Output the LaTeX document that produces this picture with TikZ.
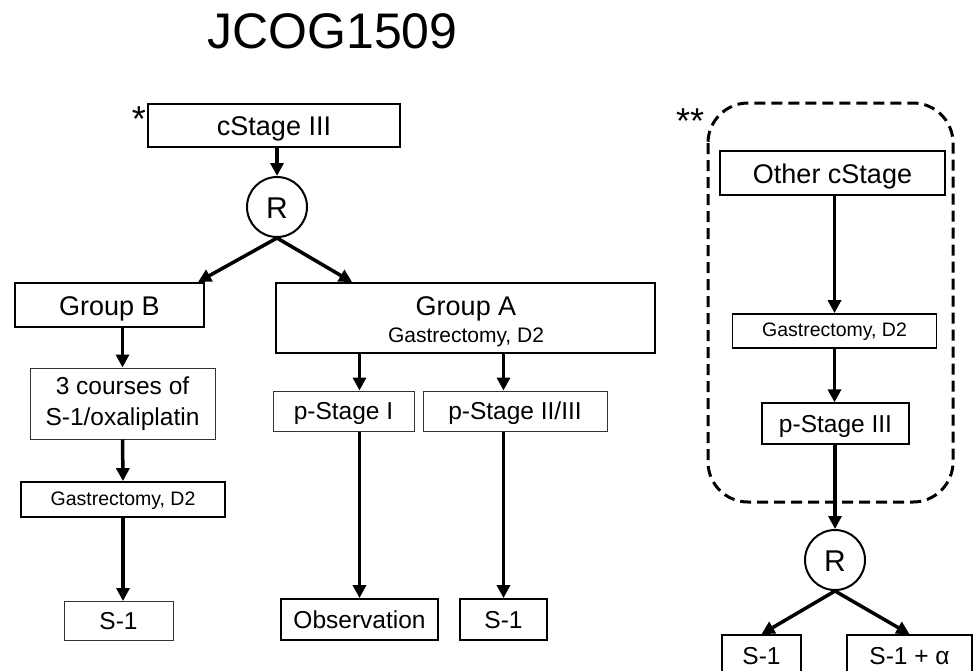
\documentclass[tikz,border=0pt]{standalone}
\usepackage{fontspec}
\setmainfont{Liberation Sans}
\usetikzlibrary{arrows.meta,calc}
\tikzset{
  box/.style={draw, line width=1.8pt, rectangle, inner sep=0pt},
  thinbox/.style={draw, line width=1pt, draw=black!80, rectangle, inner sep=0pt},
  rnode/.style={draw, circle, line width=2pt, minimum size=60pt, inner sep=0pt, text height=23pt, text depth=1pt, font=\fontsize{30}{32}\selectfont},
  arr/.style={line width=3.5pt, -{Triangle[length=13pt,width=13pt]}},
  fbig/.style={font=\fontsize{27}{30}\selectfont},
  fmid/.style={font=\fontsize{24.5}{30}\selectfont},
  fbigone/.style={fbig, text height=21pt, text depth=1pt},
  fmidone/.style={fmid, text height=18.5pt, text depth=1.5pt},
  fsmallone/.style={font=\fontsize{19.5}{22}\selectfont, text height=13pt, text depth=1.5pt},
  star/.style={font=\fontsize{36}{38}\selectfont, anchor=base},
  dashbox/.style={draw, line width=3pt, dash pattern=on 11pt off 6pt, rounded corners=40pt}
}
\begin{document}
\begin{tikzpicture}[x=1pt,y=-1pt]
\useasboundingbox (0,0) rectangle (973,670);
% title
\node[anchor=base, font=\fontsize{50}{52}\selectfont] (title) at (332.5,48) {JCOG1509};
% left tree
\node[star] (ast1) at (139,131) {*};
\node[box, fbigone, minimum width=252pt, minimum height=43pt] (cs) at (274,125.5) {cStage III};
\node[rnode] (r1) at (277,207) {R};
\node[box, line width=2.2pt, fbigone, minimum width=189pt, minimum height=44pt] (gb) at (109.5,305) {Group B};
\node[thinbox, align=center, fmid, minimum width=185pt, minimum height=71pt] (c3) at (122.5,403.5) {3 courses of\\[1pt]S-1/oxaliplatin};
\node[box, fsmallone, minimum width=204pt, minimum height=35pt] (gsb) at (123,499.5) {Gastrectomy, D2};
\node[thinbox, fmidone, minimum width=109pt, minimum height=39pt] (s1b) at (118.5,621) {S-1};
\node[box, minimum width=379pt, minimum height=70pt] (ga) at (465.5,318) {};
\node[fbig, anchor=base] (gat) at (466,315) {Group A};
\node[font=\fontsize{21}{24}\selectfont, anchor=base] (gas) at (466,342) {Gastrectomy, D2};
\node[thinbox, fmidone, minimum width=141pt, minimum height=40pt] (p1) at (343.5,411) {p-Stage I};
\node[thinbox, fmidone, minimum width=184pt, minimum height=40pt] (p23) at (515,411) {p-Stage II/III};
\node[box, fmidone, minimum width=157pt, minimum height=41pt] (obs) at (359.5,619.5) {Observation};
\node[box, fmidone, minimum width=87pt, minimum height=41pt] (s1a) at (503.5,619.5) {S-1};
% right tree
\draw[dashbox] (708,103) rectangle (953,502);
\node[star] (ast2) at (690,133) {**};
\node[box, line width=1.5pt, fbigone, minimum width=225pt, minimum height=44pt] (oc) at (832.5,173) {Other cStage};
\node[box, fsmallone, minimum width=204pt, minimum height=34pt] (gsr) at (834.5,331) {Gastrectomy, D2};
\node[box, line width=1.3pt, fmidone, minimum width=147pt, minimum height=41pt] (p3) at (835.5,423.5) {p-Stage III};
\node[rnode] (r2) at (835,560) {R};
\node[box, fmidone, minimum width=79pt, minimum height=42pt] (s1r) at (761.5,656) {S-1};
\node[box, fmidone, minimum width=125pt, minimum height=42pt] (s1x) at (909.5,656) {S-1 + α};
% connectors
\draw[arr] (r1.north |- cs.south) -- (r1.north);
\draw[arr] (r1.south) -- ($(gb.north east)+(-7,0)$);
\draw[arr] (r1.south) -- ($(ga.north west)+(77,0)$);
\draw[arr] (c3.north |- gb.south) -- (c3.north);
\draw[arr] (c3.south) -- (gsb.north);
\draw[arr] (gsb.south) -- (gsb.south |- s1b.north);
\draw[arr] (obs.north |- ga.south) -- (obs.north |- p1.north);
\draw[arr] (s1a.north |- ga.south) -- (s1a.north |- p23.north);
\draw[arr] (obs.north |- p1.south) -- (obs.north);
\draw[arr] (s1a.north |- p23.south) -- (s1a.north);
\draw[arr] (gsr.north |- oc.south) -- (gsr.north);
\draw[arr] (gsr.south) -- (gsr.south |- p3.north);
\draw[arr] (r2.north |- p3.south) -- (r2.north);
\draw[arr] (r2.south) -- (s1r.north);
\draw[arr] (r2.south) -- (s1x.north);
\end{tikzpicture}
\end{document}
